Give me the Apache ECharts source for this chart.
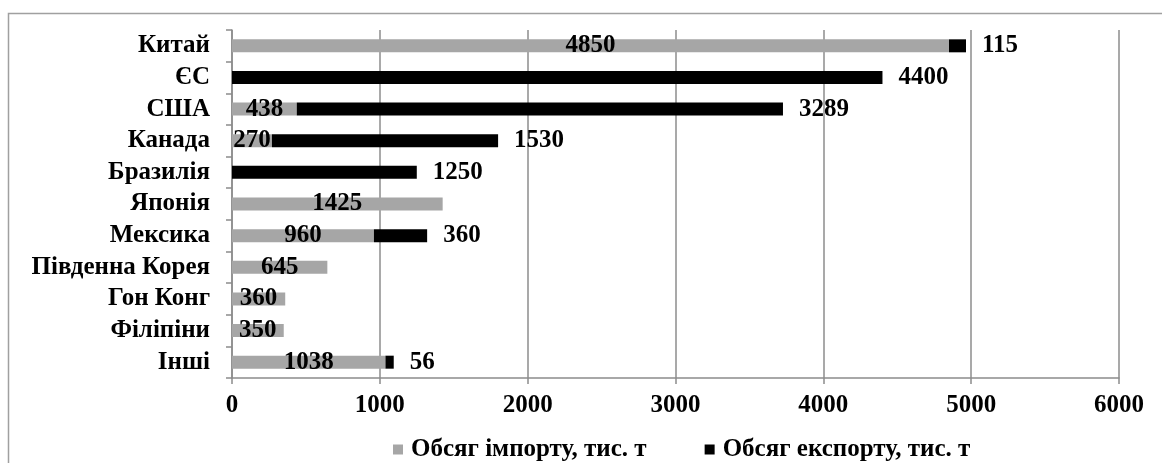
<!DOCTYPE html>
<html>
<head>
<meta charset="utf-8">
<script src="https://cdn.jsdelivr.net/npm/echarts@6/dist/echarts.min.js"></script>
<style>
  html, body { margin: 0; padding: 0; background: #fff; }
  #chart { width: 1162px; height: 463px; }
</style>
</head>
<body>
<div id="chart"></div>
<script>
// Countries, top to bottom
const countries = ['Китай', 'ЄС', 'США', 'Канада', 'Бразилія', 'Японія', 'Мексика', 'Південна Корея', 'Гон Конг', 'Філіпіни', 'Інші'];
// Import volume, thousand tonnes
const importVolume = [4850, 0, 438, 270, 0, 1425, 960, 645, 360, 350, 1038];
// Export volume, thousand tonnes
const exportVolume = [115, 4400, 3289, 1530, 1250, 0, 360, 0, 0, 0, 56];
const seriesNames = ['Обсяг імпорту, тис. т', 'Обсяг експорту, тис. т'];
const xTicks = { min: 0, max: 6000, interval: 1000 };

const FONT = '"Liberation Serif", "DejaVu Serif", serif';
const FS = 25;
const GRID_COLOR = '#8c8c8c';
const hideZero = p => (p.value ? String(p.value) : '');

const chart = echarts.init(document.getElementById('chart'), null, { renderer: 'canvas' });
chart.setOption({
  animation: false,
  backgroundColor: '#fff',
  textStyle: { fontFamily: FONT },
  graphic: [{
    type: 'rect',
    shape: { x: 8.5, y: 13.5, width: 1200, height: 500 },
    style: { fill: 'none', stroke: '#a0a0a0', lineWidth: 1.5 },
    silent: true,
    z: -1
  }],
  grid: { left: 232, right: 43, top: 30, bottom: 85, containLabel: false },
  legend: {
    top: 432,
    left: 388,
    itemWidth: 10,
    itemHeight: 10,
    itemGap: 58,
    icon: 'rect',
    textStyle: { fontFamily: FONT, fontWeight: 'bold', fontSize: FS, color: '#000', padding: [0, 0, 0, 3] },
    data: seriesNames
  },
  xAxis: {
    type: 'value',
    min: xTicks.min,
    max: xTicks.max,
    interval: xTicks.interval,
    axisLine: { show: true, lineStyle: { color: GRID_COLOR, width: 1.5 } },
    axisTick: { show: true, length: 6, lineStyle: { color: GRID_COLOR, width: 1.5 } },
    splitLine: { show: true, lineStyle: { color: GRID_COLOR, width: 1.5 } },
    axisLabel: {
      formatter: v => String(v),
      fontFamily: FONT, fontWeight: 'bold', fontSize: FS, color: '#000', margin: 15
    }
  },
  yAxis: {
    type: 'category',
    inverse: true,
    data: countries,
    axisLine: { show: true, lineStyle: { color: GRID_COLOR, width: 1.5 } },
    axisTick: { show: true, length: 6, inside: false, lineStyle: { color: GRID_COLOR, width: 1.5 } },
    axisLabel: { interval: 0, fontFamily: FONT, fontWeight: 'bold', fontSize: FS, color: '#000', margin: 22 }
  },
  series: [
    {
      name: seriesNames[0],
      type: 'bar',
      stack: 'total',
      barWidth: 13,
      itemStyle: { color: '#a6a6a6' },
      label: {
        show: true,
        position: 'inside',
        formatter: hideZero,
        fontFamily: FONT, fontWeight: 'bold', fontSize: FS, color: '#000'
      },
      data: importVolume
    },
    {
      name: seriesNames[1],
      type: 'bar',
      stack: 'total',
      barWidth: 13,
      itemStyle: { color: '#000' },
      label: {
        show: true,
        position: 'right',
        distance: 16,
        formatter: hideZero,
        fontFamily: FONT, fontWeight: 'bold', fontSize: FS, color: '#000'
      },
      data: exportVolume
    }
  ]
});
</script>
</body>
</html>
